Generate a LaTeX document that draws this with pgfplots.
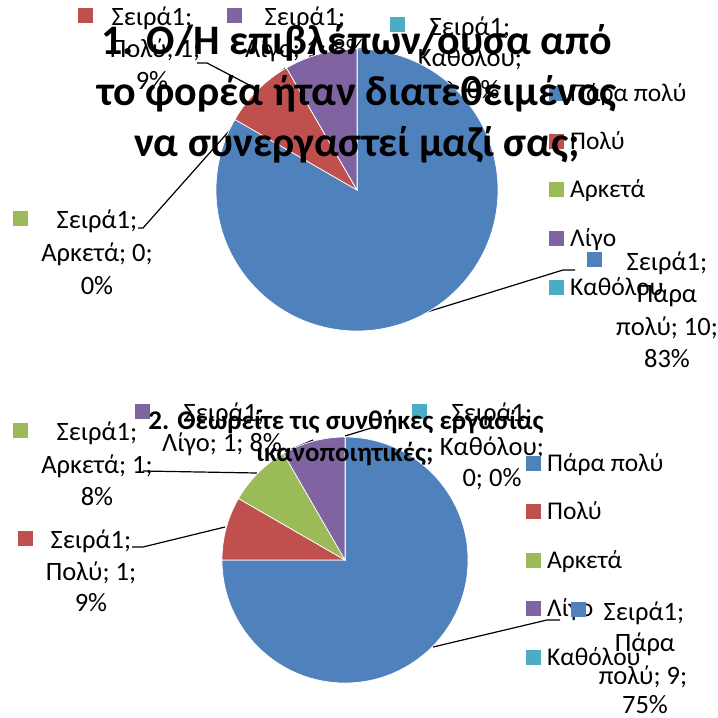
\documentclass[border=0pt]{standalone}
\usepackage{pgfplots}
\pgfplotsset{compat=1.18}
\usepackage{pgfplotstable}
\usepackage{fontspec}
\setmainfont{Carlito}
\definecolor{cA}{RGB}{79,129,189}
\definecolor{cB}{RGB}{192,80,77}
\definecolor{cC}{RGB}{155,187,89}
\definecolor{cD}{RGB}{128,100,162}
\definecolor{cE}{RGB}{75,172,198}
\newcommand\lf{\fontsize{26.5}{30}\selectfont}
\newcommand\gf{\fontsize{25.5}{30}\selectfont}
\newcommand\tfa{\fontsize{42}{50}\selectfont\bfseries}
\newcommand\tfb{\fontsize{27}{30}\selectfont\bfseries}
\tikzset{lb/.style={anchor=base, font=\lf, inner sep=0pt},
  lg/.style={anchor=base west, font=\gf, inner sep=0pt}}

% x y = centre of pie, r = radius, cum = values before this slice, val = value, c = colour index
\pgfplotstableread{
x y r cum val c
357 190 141 0 10 0
357 190 141 10 1 1
357 190 141 11 0 2
357 190 141 11 1 3
357 190 141 12 0 4
}\pieone
\pgfplotstableread{
x y r cum val c
345 560 123 0 9 0
345 560 123 9 1 1
345 560 123 10 1 2
345 560 123 11 1 3
345 560 123 12 0 4
}\pietwo

\pgfplotsset{pieslice/.style={
  scatter, only marks, mark=*, mark size=0pt, mark options={draw=none,fill=none},
  visualization depends on={\thisrow{r} \as \rad},
  visualization depends on={\thisrow{cum} \as \cum},
  visualization depends on={\thisrow{val} \as \val},
  visualization depends on={\thisrow{c} \as \cidx},
  scatter/@pre marker code/.code={%
    \pgfmathsetmacro\sa{90-30*\cum}%
    \pgfmathsetmacro\ea{90-30*(\cum+\val)}%
    \pgfmathtruncatemacro\ci{\cidx}%
    \edef\fc{\ifcase\ci cA\or cB\or cC\or cD\or cE\fi}%
    \path[fill=\fc, draw=white, line width=0.7pt] (0,0) -- (\sa:\rad pt) arc[start angle=\sa, end angle=\ea, radius=\rad pt] -- cycle;%
    \scope
  },
  scatter/@post marker code/.code={\endscope},
}}

\begin{document}
\begin{tikzpicture}
\path[use as bounding box] (0,0) rectangle (718pt,718pt);
\begin{axis}[at={(0,0)}, anchor=south west, scale only axis, width=718pt, height=718pt,
  xmin=0, xmax=718, ymin=0, ymax=718, y dir=reverse, hide axis, clip=false]

% pies
\addplot[pieslice] table[x=x,y=y] {\pieone};
\addplot[pieslice] table[x=x,y=y] {\pietwo};

% leader lines
\addplot[black, line width=1.2pt] coordinates {(197,63) (207,63) (253,87)};
\addplot[black, line width=1.2pt] coordinates {(138,228) (143,228) (285,68)};
\addplot[black, line width=1.2pt] coordinates {(427,312) (563,270) (575,270)};
\addplot[black, line width=1.2pt] coordinates {(143,471) (257,473)};
\addplot[black, line width=1.2pt] coordinates {(132,547) (143,547) (225,527)};
\addplot[black, line width=1.2pt] coordinates {(285,452) (313,440)};
\addplot[black, line width=1.2pt] coordinates {(345,436) (378,426)};
\addplot[black, line width=1.2pt] coordinates {(433,647) (547,620) (560,620)};

% data labels, pie 1
\node[lb] at (axis cs:152,25) {Σειρά1;};
\node[lb] at (axis cs:155,57) {Πολύ; 1;};
\node[lb] at (axis cs:152,89) {9\%};
\node[lb] at (axis cs:305,25) {Σειρά1;};
\node[lb] at (axis cs:305,57) {Λίγο; 1; 8\%};
\node[lb] at (axis cs:470,35) {Σειρά1;};
\node[lb] at (axis cs:470,66) {Καθόλου;};
\node[lb] at (axis cs:470,98) {0; 0\%};
\node[lb] at (axis cs:97,228) {Σειρά1;};
\node[lb] at (axis cs:97,261) {Αρκετά; 0;};
\node[lb] at (axis cs:97,294) {0\%};
\node[lb] at (axis cs:667,270) {Σειρά1;};
\node[lb] at (axis cs:667,302) {Πάρα};
\node[lb] at (axis cs:667,335) {πολύ; 10;};
\node[lb] at (axis cs:667,367) {83\%};

% data labels, pie 2
\node[lb] at (axis cs:224,421) {Σειρά1;};
\node[lb] at (axis cs:222,451) {Λίγο; 1; 8\%};
\node[lb] at (axis cs:492,421) {Σειρά1;};
\node[lb] at (axis cs:492,455) {Καθόλου;};
\node[lb] at (axis cs:492,486) {0; 0\%};
\node[lb] at (axis cs:97,440) {Σειρά1;};
\node[lb] at (axis cs:97,473) {Αρκετά; 1;};
\node[lb] at (axis cs:97,505) {8\%};
\node[lb] at (axis cs:91,548) {Σειρά1;};
\node[lb] at (axis cs:91,580) {Πολύ; 1;};
\node[lb] at (axis cs:91,611) {9\%};
\node[lb] at (axis cs:644,620) {Σειρά1;};
\node[lb] at (axis cs:645,651) {Πάρα};
\node[lb] at (axis cs:643,684) {πολύ; 9;};
\node[lb] at (axis cs:645,713) {75\%};

% keys (legend squares and label keys)
\addplot[only marks, mark=square*, mark size=6.8pt, color=cA] coordinates {(556,93) (533,463) (594,259) (578,609)};
\addplot[only marks, mark=square*, mark size=6.8pt, color=cB] coordinates {(556,141) (533,511) (85,15) (25,538)};
\addplot[only marks, mark=square*, mark size=6.8pt, color=cC] coordinates {(556,189) (533,560) (20,218) (20,430)};
\addplot[only marks, mark=square*, mark size=6.8pt, color=cD] coordinates {(556,238) (533,608) (234,15) (142,411)};
\addplot[only marks, mark=square*, mark size=6.8pt, color=cE] coordinates {(556,287) (533,657) (397,24) (419,411)};

% legend texts
\node[lg] at (axis cs:570,101) {Πάρα πολύ};
\node[lg] at (axis cs:570,149) {Πολύ};
\node[lg] at (axis cs:570,197) {Αρκετά};
\node[lg] at (axis cs:570,246) {Λίγο};
\node[lg] at (axis cs:570,295) {Καθόλου};
\node[lg] at (axis cs:547,471) {Πάρα πολύ};
\node[lg] at (axis cs:547,519) {Πολύ};
\node[lg] at (axis cs:547,568) {Αρκετά};
\node[lg] at (axis cs:547,616) {Λίγο};
\node[lg] at (axis cs:547,665) {Καθόλου};

% anchor points for the titles
\coordinate (T1) at (axis cs:357,55);
\coordinate (T2) at (axis cs:357,106);
\coordinate (T3) at (axis cs:357,157);
\coordinate (U1) at (axis cs:346,430);
\coordinate (U2) at (axis cs:345,462);
\end{axis}
% titles on top of everything
\node[anchor=base, font=\tfa, inner sep=0pt] at (T1) {1. Ο/Η επιβλέπων/ουσα από};
\node[anchor=base, font=\tfa, inner sep=0pt] at (T2) {το φορέα ήταν διατεθειμένος};
\node[anchor=base, font=\tfa, inner sep=0pt] at (T3) {να συνεργαστεί μαζί σας;};
\node[anchor=base, font=\tfb, inner sep=0pt] at (U1) {2. Θεωρείτε τις συνθήκες εργασίας};
\node[anchor=base, font=\tfb, inner sep=0pt] at (U2) {ικανοποιητικές;};
\end{tikzpicture}
\end{document}
